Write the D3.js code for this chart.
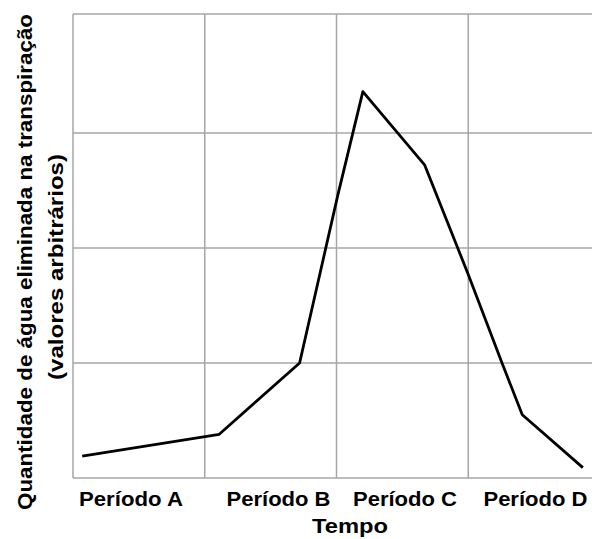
<!DOCTYPE html>
<html>
<head>
<meta charset="utf-8">
<title>Transpiração</title>
<style>
body { margin: 0; background: #fff; }
text { font-family: "Liberation Sans", Arial, sans-serif; font-weight: bold; }
</style>
</head>
<body>
<div id="chart"></div>
<script src="https://d3js.org/d3.v7.min.js"></script>
<script>
const width = 592;
const height = 539;

// Data (time in period units, amount in arbitrary units)
const timeValues = [0.07, 1.11, 1.72, 2.01, 2.20, 2.67, 3.00, 3.26, 3.41, 3.87];
const waterValues = [0.19, 0.38, 1.00, 2.46, 3.36, 2.72, 1.77, 0.99, 0.55, 0.09];
const periodLabels = ["Período A", "Período B", "Período C", "Período D"];
const periodLabelTimes = [0.44, 1.56, 2.52, 3.51];
const xGridTicks = [1, 2, 3];
const yGridTicks = [1, 2, 3];

const margin = { left: 73, top: 14, bottom: 61 };

const svg = d3.select("#chart")
  .append("svg")
  .attr("width", width)
  .attr("height", height);

svg.append("rect")
    .attr("width", width)
    .attr("height", height)
    .attr("fill", "#fff");

const x = d3.scaleLinear()
  .domain([0, 4])
  .range([margin.left, 600]);

const y = d3.scaleLinear()
  .domain([0, 4.035])
  .range([height - margin.bottom, margin.top]);

const gridColor = "#a6a6a6";

// gridlines
svg.append("g")
  .selectAll("line")
  .data(xGridTicks)
  .join("line")
    .attr("x1", d => x(d))
    .attr("x2", d => x(d))
    .attr("y1", y(0))
    .attr("y2", y.range()[1])
    .attr("stroke", gridColor)
    .attr("stroke-width", 1.5);

svg.append("g")
  .selectAll("line")
  .data(yGridTicks.concat([y.domain()[1]]))
  .join("line")
    .attr("x1", x(0))
    .attr("x2", x.range()[1])
    .attr("y1", d => y(d))
    .attr("y2", d => y(d))
    .attr("stroke", gridColor)
    .attr("stroke-width", 1.5);

// axes frame
svg.append("line")
    .attr("x1", x(0)).attr("x2", x(0))
    .attr("y1", y(0)).attr("y2", y.range()[1])
    .attr("stroke", gridColor)
    .attr("stroke-width", 1.5);

svg.append("line")
    .attr("x1", x(0)).attr("x2", x.range()[1])
    .attr("y1", y(0)).attr("y2", y(0))
    .attr("stroke", gridColor)
    .attr("stroke-width", 1.5);

// the curve
const points = timeValues.map((t, i) => [t, waterValues[i]]);

svg.append("path")
    .datum(points)
    .attr("fill", "none")
    .attr("stroke", "#000")
    .attr("stroke-width", 2.8)
    .attr("stroke-linejoin", "round")
    .attr("d", d3.line().x(d => x(d[0])).y(d => y(d[1])));

// period labels
svg.append("g")
  .selectAll("text")
  .data(periodLabels)
  .join("text")
    .attr("x", (d, i) => x(periodLabelTimes[i]))
    .attr("y", 506)
    .attr("text-anchor", "middle")
    .attr("font-size", 20)
    .attr("textLength", 104)
    .attr("lengthAdjust", "spacingAndGlyphs")
    .text(d => d);

svg.append("text")
    .attr("x", 350)
    .attr("y", 533)
    .attr("text-anchor", "middle")
    .attr("font-size", 20)
    .attr("textLength", 76)
    .attr("lengthAdjust", "spacingAndGlyphs")
    .text("Tempo");

// y axis title (two lines)
const yTitle = svg.append("g")
  .attr("transform", "translate(0,262) rotate(-90)");

yTitle.append("text")
    .attr("x", 0)
    .attr("y", 32)
    .attr("text-anchor", "middle")
    .attr("font-size", 20)
    .attr("textLength", 496)
    .attr("lengthAdjust", "spacingAndGlyphs")
    .text("Quantidade de água eliminada na transpiração");

yTitle.append("text")
    .attr("x", -5)
    .attr("y", 63)
    .attr("text-anchor", "middle")
    .attr("font-size", 20)
    .attr("textLength", 226)
    .attr("lengthAdjust", "spacingAndGlyphs")
    .text("(valores arbitrários)");
</script>
</body>
</html>
